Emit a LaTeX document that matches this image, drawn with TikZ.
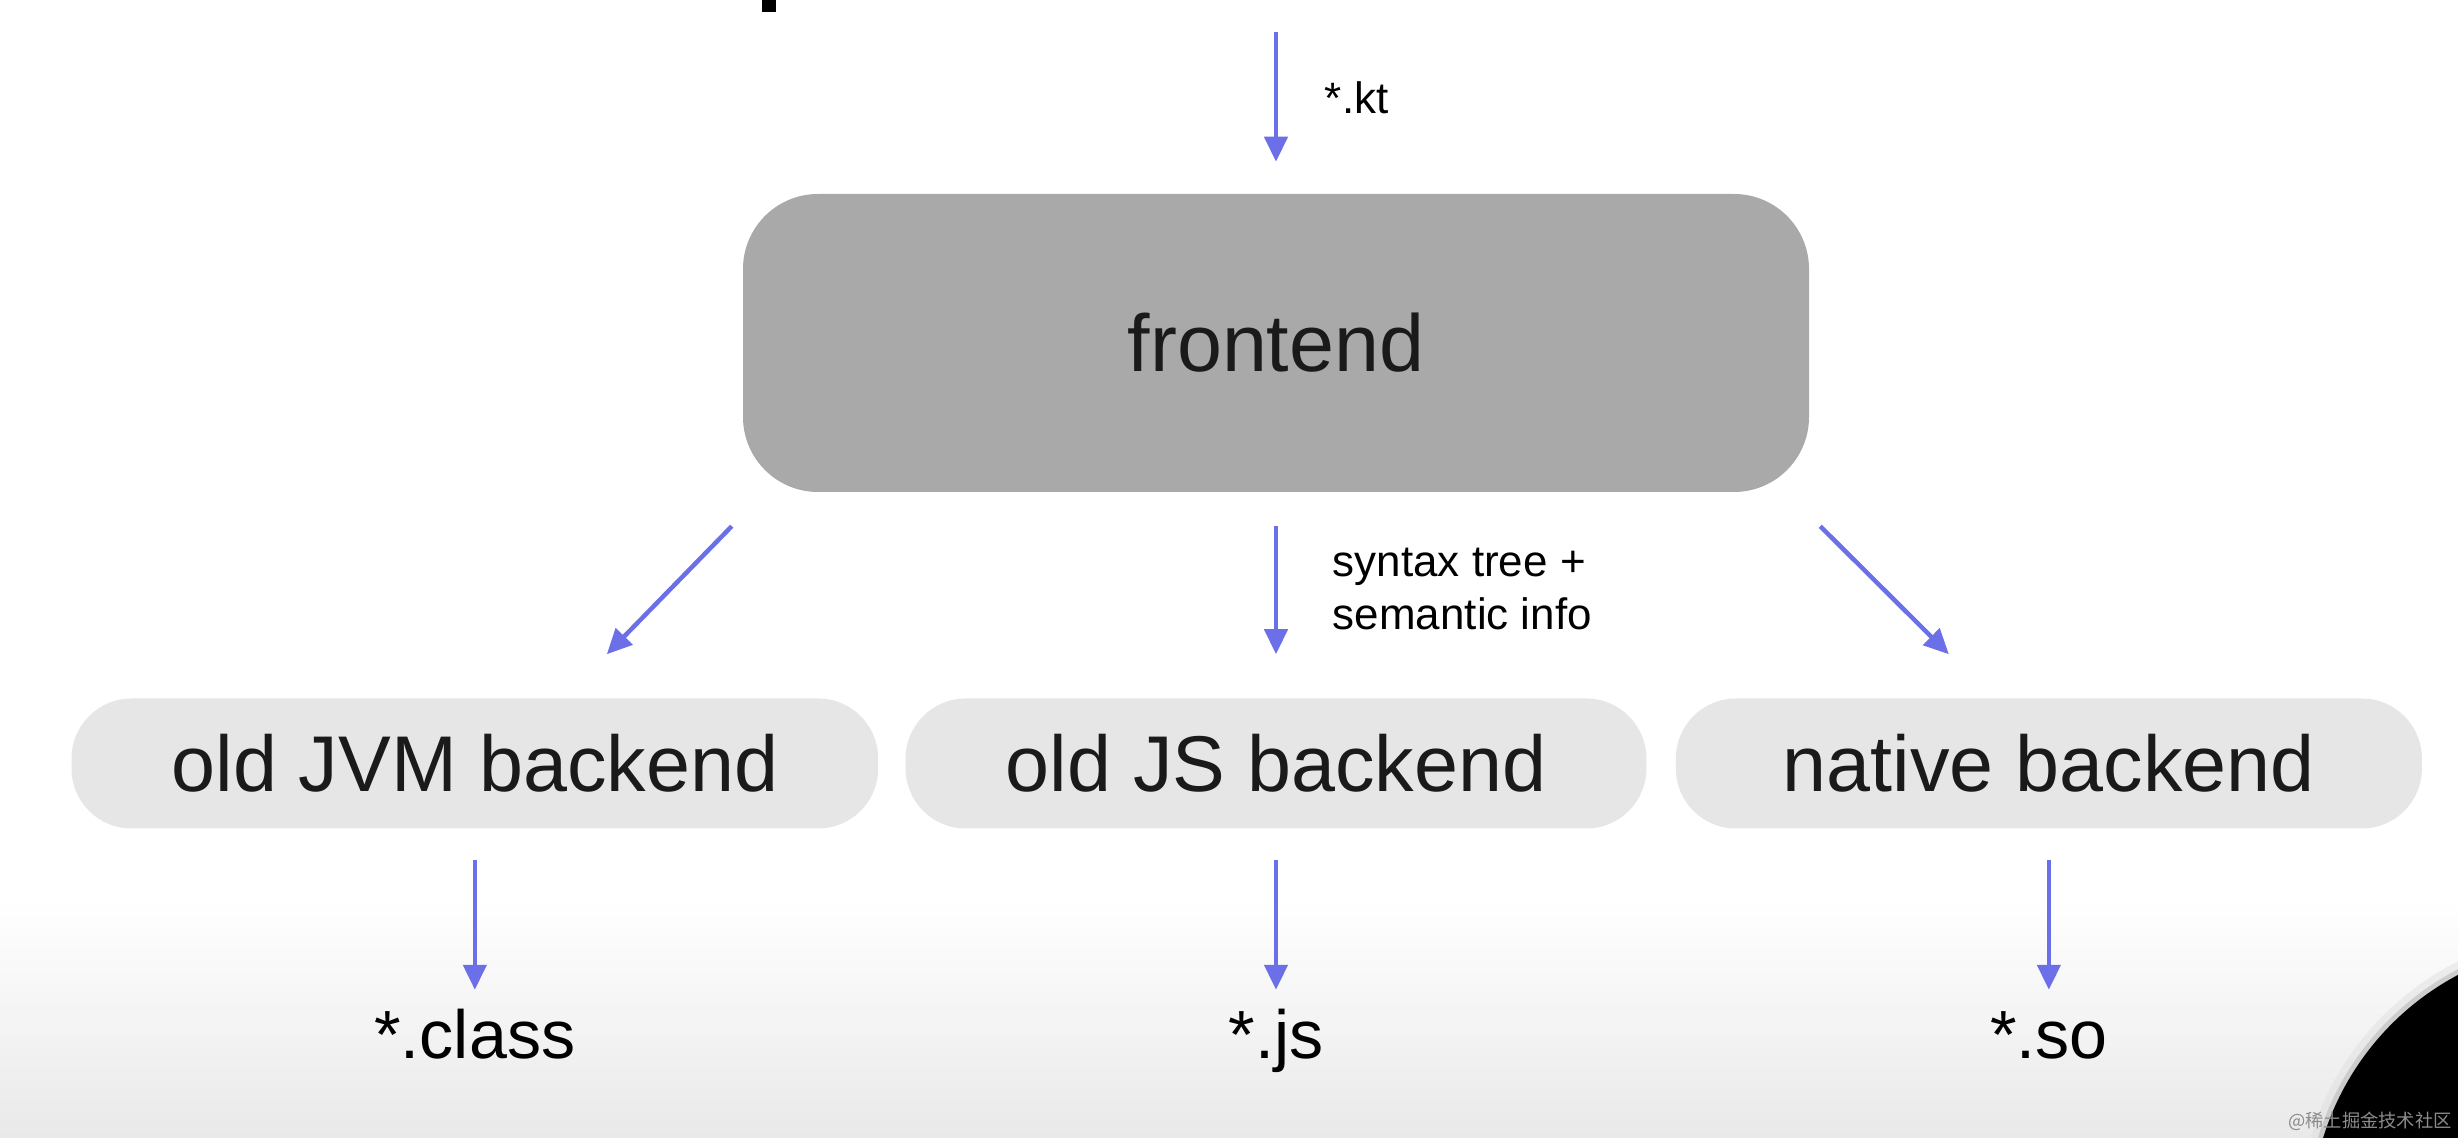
\documentclass[tikz,border=0pt]{standalone}
\usepackage{fontspec}
\setmainfont{Liberation Sans}
\newfontfamily\cjk{Noto Sans CJK SC}
\usetikzlibrary{arrows.meta,positioning}

\definecolor{flowblue}{RGB}{108,112,232}
\definecolor{frontgray}{RGB}{169,169,169}
\definecolor{backgray}{RGB}{230,230,230}
\definecolor{bggray}{RGB}{233,233,233}
\definecolor{textblack}{RGB}{26,26,26}

\begin{document}
\begin{tikzpicture}[
    > = {Triangle[length=0.25cm, width=0.23cm]}, % arrow head style
    line width = 0.045cm, % line style
    node distance = 2.02cm, % distance between nodes
    font = \fontsize{22.5pt}{27pt}\selectfont
    ]

    \tikzset{
    frontbox/.style = {fill = frontgray, text = textblack, rounded corners = 0.75cm,
        minimum width = 10.66cm, minimum height = 2.98cm, font = \fontsize{23pt}{28pt}\selectfont},
    backbox/.style = {fill = backgray, text = textblack, rounded corners = 0.6cm,
        inner xsep = 1.0cm, minimum height = 1.3cm},
    outfile/.style = {text = black, font = \fontsize{19.4pt}{23pt}\selectfont, text height = 0.5cm},
    note/.style = {text = black, font = \fontsize{12.5pt}{15pt}\selectfont, align = left},
    flow/.style = {->, flowblue}
    }

    % page and background
    \useasboundingbox (0,0) rectangle (24.58,-11.38);
    \begin{scope}
    \clip (0,0) rectangle (24.58,-11.38);
    \fill[white] (0,0) rectangle (24.58,-11.38);
    \shade[top color = white, bottom color = bggray] (0,-9.0) rectangle (24.58,-11.38);
    \fill[black] (7.62,0) rectangle (7.76,-0.12);
    \fill[black!12, opacity = 0.5] (25.87,-12.19) circle (2.88);
    \fill[black!30, opacity = 0.5] (25.87,-12.19) circle (2.81);
    \fill[black] (25.87,-12.19) circle (2.76);
    \end{scope}

    \node[frontbox] (front) at (12.76,-3.43) {frontend};
    \node[backbox] (js) [below=of front] {old JS backend};
    \node[backbox] (jvm) [left=0.23cm of js] {old JVM backend};
    \node[backbox, minimum width = 7.46cm] (native) [right=0.25cm of js] {native backend};

    \node[outfile] (cls) [below=2.28cm of jvm.south, anchor=base] {*.class};
    \node[outfile] (jsfile) [below=2.28cm of js.south, anchor=base] {*.js};
    \node[outfile] (so) [below=2.28cm of native.south, anchor=base] {*.so};

    \coordinate[above=1.6cm of front.north] (src);
    \coordinate[below left=0.32cm and 0.09cm of front.south west] (l1);
    \coordinate[above right=0.42cm and 1.32cm of jvm.north] (l2);
    \coordinate[below right=0.32cm and 0.09cm of front.south east] (r1);
    \coordinate[above left=0.42cm and 1.0cm of native.north] (r2);

    \path[flow] (src) edge[shorten >=0.3cm] node[note, pos=0.41, right=0.35cm]{*.kt} (front);
    \path[flow] (l1) edge (l2);
    \path[flow] (front) edge[shorten <=0.32cm, shorten >=0.42cm]
        node[note, pos=0.47, right=0.43cm]{syntax tree +\\semantic info} (js);
    \path[flow] (r1) edge (r2);
    \path[flow] (jvm) edge[shorten <=0.29cm, shorten >=0.05cm] (cls);
    \path[flow] (js) edge[shorten <=0.29cm, shorten >=0.05cm] (jsfile);
    \path[flow] (native) edge[shorten <=0.29cm, shorten >=0.05cm] (so);

    \node[text = black!45, font = \cjk\fontsize{5.2pt}{6pt}\selectfont] (mark) at (23.7,-11.21) {@稀土掘金技术社区};
\end{tikzpicture}
\end{document}
